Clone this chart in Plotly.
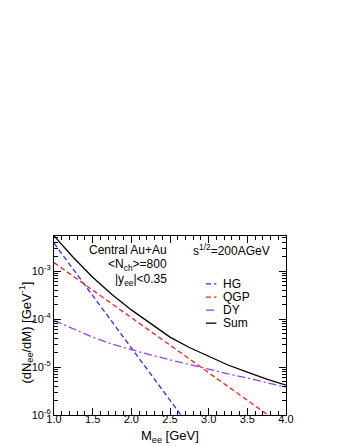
import plotly.graph_objects as go

# invariant mass grid [GeV]
mass = [1.0, 1.25, 1.5, 1.75, 2.0, 2.25, 2.5, 2.75, 3.0, 3.25, 3.5, 3.75, 4.0]

# dN_ee/dM [GeV^-1]
hg = [3.8e-3, 1.08e-3, 3.1e-4, 8.8e-5, 2.5e-5, 7.2e-6, 2.0e-6, 5.8e-7]
qgp = [1.5e-3, 7.8e-4, 4.0e-4, 2.1e-4, 1.07e-4, 5.5e-5, 2.85e-5, 1.48e-5,
       7.6e-6, 3.9e-6, 2.0e-6, 1.05e-6, 5.4e-7]
dy = [9.3e-5, 6.2e-5, 4.2e-5, 3.0e-5, 2.3e-5, 1.78e-5, 1.41e-5, 1.12e-5,
      9.1e-6, 7.2e-6, 5.9e-6, 4.7e-6, 3.8e-6]
total = [5.4e-3, 1.92e-3, 7.4e-4, 3.25e-4, 1.55e-4, 7.9e-5, 4.2e-5, 2.55e-5,
         1.66e-5, 1.1e-5, 7.8e-6, 5.6e-6, 4.2e-6]

names = ["HG", "QGP", "DY", "Sum"]
series = [hg, qgp, dy, total]
colors = ["#2b2bff", "#ff2020", "#9a3cff", "#000000"]
dashes = ["5px,3px", "5px,3px", "8px,3px,2px,3px", "solid"]

xtickvals = [1.0, 1.5, 2.0, 2.5, 3.0, 3.5, 4.0]
xticktext = ["1.0", "1.5", "2.0", "2.5", "3.0", "3.5", "4.0"]
ytickvals = [1e-6, 1e-5, 1e-4, 1e-3]
yticktext = ["10<sup>-6</sup>", "10<sup>-5</sup>", "10<sup>-4</sup>", "10<sup>-3</sup>"]

FONT = "Liberation Sans, Arial, Helvetica, sans-serif"

fig = go.Figure()
for name, vals, col, dsh in zip(names, series, colors, dashes):
    fig.add_trace(go.Scatter(x=mass[:len(vals)], y=vals, mode="lines", name=name,
                             line=dict(color=col, width=1.3, dash=dsh),
                             showlegend=False))

# ROOT-style compact legend
leg_x0, leg_x1, leg_y0, leg_dy = 0.655, 0.70, 0.732, 0.073
for i, (name, col, dsh) in enumerate(zip(names, colors, dashes)):
    yy = leg_y0 - i * leg_dy
    fig.add_shape(type="line", xref="paper", yref="paper",
                  x0=leg_x0, x1=leg_x1, y0=yy, y1=yy,
                  line=dict(color=col, width=1.3, dash=dsh))
    fig.add_annotation(x=leg_x1 + 0.02, y=yy, xref="paper", yref="paper",
                       text=name, showarrow=False, xanchor="left", yanchor="middle",
                       font=dict(size=12))

# labels inside the frame
labels = [("Central Au+Au", 0.922), ("&lt;N<sub>ch</sub>&gt;=800", 0.838),
          ("|y<sub>ee</sub>|&lt;0.35", 0.754)]
for txt, yy in labels:
    fig.add_annotation(x=0.496, y=yy, xref="paper", yref="paper", text=txt,
                       showarrow=False, xanchor="right", yanchor="middle", font=dict(size=12))
fig.add_annotation(x=0.59, y=0.922, xref="paper", yref="paper",
                   text="s<sup>1/2</sup>=200AGeV",
                   showarrow=False, xanchor="left", yanchor="middle", font=dict(size=12))

# axis titles
fig.add_annotation(x=0.5, y=-0.118, xref="paper", yref="paper", text="M<sub>ee</sub> [GeV]",
                   showarrow=False, xanchor="center", yanchor="middle", font=dict(size=13))
fig.add_annotation(x=-0.121, y=0.46, xref="paper", yref="paper",
                   text="(dN<sub>ee</sub>/dM) [GeV<sup>-1</sup>]", textangle=-90,
                   showarrow=False, xanchor="center", yanchor="middle", font=dict(size=13))

fig.update_xaxes(range=[1.0, 4.0], tickvals=xtickvals, ticktext=xticktext,
                 ticks="inside", ticklen=7, tickwidth=1, tickcolor="black",
                 minor=dict(ticks="inside", dtick=0.1, ticklen=4, tickcolor="black", showgrid=False),
                 showline=True, linecolor="black", linewidth=1, mirror="allticks",
                 showgrid=False, zeroline=False, tickfont=dict(size=11),
                 ticklabelstandoff=-6)
fig.update_yaxes(type="log", range=[-6, -2.27], tickvals=ytickvals, ticktext=yticktext,
                 ticks="inside", ticklen=7, tickwidth=1, tickcolor="black",
                 minor=dict(ticks="inside", dtick="D1", ticklen=4, tickcolor="black", showgrid=False),
                 showline=True, linecolor="black", linewidth=1, mirror="allticks",
                 showgrid=False, zeroline=False, tickfont=dict(size=11))

fig.update_layout(width=345, height=446, margin=dict(l=46, r=67, t=228, b=39),
                  paper_bgcolor="white", plot_bgcolor="white",
                  font=dict(family=FONT, color="black"))

fig.write_html("out.html")
